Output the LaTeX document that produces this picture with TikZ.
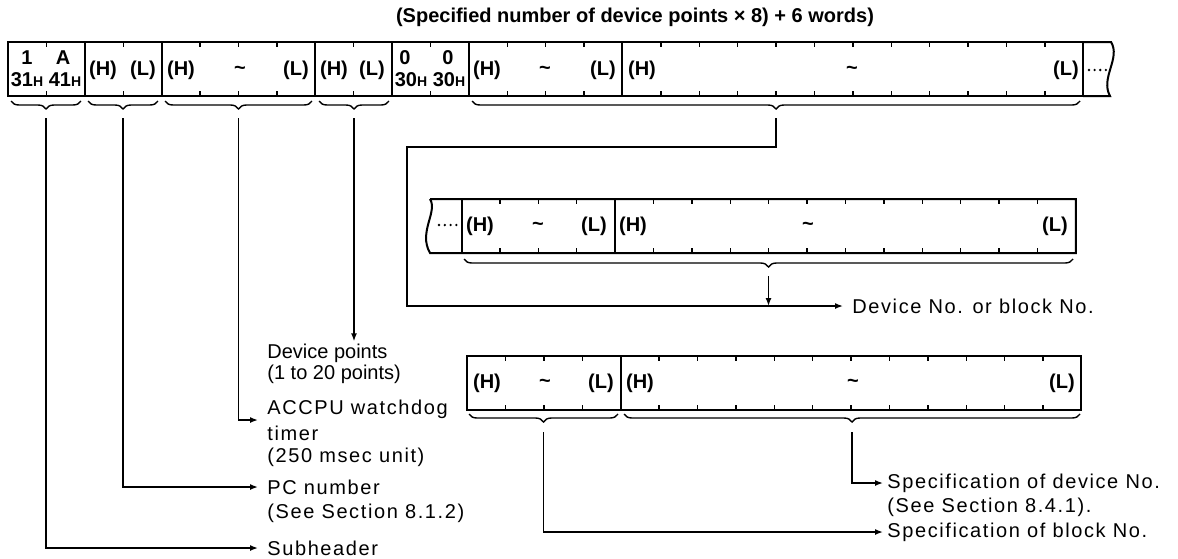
\documentclass[tikz,border=0pt]{standalone}
\usepackage{fontspec}
\setmainfont{Liberation Sans}
\newfontfamily\spc[LetterSpace=8]{Liberation Sans}
\usepackage{tikz}
\usetikzlibrary{positioning,arrows.meta,decorations.pathreplacing}
\newcommand{\subH}{{\fontsize{7}{8}\selectfont H}}
\tikzset{
  boxln/.style={line width=1pt},
  tickln/.style={line width=0.7pt},
  brc/.style={decorate,decoration={brace,mirror,amplitude=4pt},line width=0.7pt},
  conn/.style={line width=0.75pt},
  arr/.style={conn,-{Latex[length=4pt,width=3pt]}},
  cell/.style={inner sep=0pt,font=\bfseries\fontsize{10}{12}\selectfont},
  lbl/.style={anchor=west,inner xsep=4.5pt,inner ysep=1pt,align=left,font=\spc\fontsize{10}{13}\selectfont},
}

\begin{document}
\begin{tikzpicture}[x=0.5pt,y=-0.5pt]
\useasboundingbox (0,0) rectangle (1178,558);
% one unit = one byte = 38.4 px, y runs downward
\node[cell] (title) at (635,17) {(Specified number of device points × 8) + 6 words)};

% --- top row: 28 units from x=8
\draw[boxln] (8,42) rectangle (1083.2,96);
\draw[boxln] (1083.2,42) -- (1111,42) .. controls (1121,58) and (1100,78) .. (1110,96) -- (1083.2,96);
\foreach \i in {2,4,8,10,12,16} \draw[boxln] (8+\i*38.4,42) -- (8+\i*38.4,96);
\foreach \i in {1,...,27} {\draw[tickln] (8+\i*38.4,42) -- ++(0,5) (8+\i*38.4,96) -- ++(0,-5);}
\foreach \d in {0,...,3} \fill (1089+\d*5.6,70) circle (1.3);
\node[cell] (sA1) at (27,58) {1};
\node[cell] (sA2) at (63,58) {A};
\node[cell] (sH1) at (27,80) {31\subH};
\node[cell] (sH2) at (65,80) {41\subH};
\node[cell] (nZ1) at (405,58) {0};
\node[cell] (nZ2) at (448,58) {0};
\node[cell] (nH1) at (411,80) {30\subH};
\node[cell] (nH2) at (449,80) {30\subH};
\foreach \x/\t [count=\k] in {103/(H),143/(L),181/(H),240/\textasciitilde,296/(L),334/(H),372/(L),487/(H),545/\textasciitilde,603/(L),642/(H),852/\textasciitilde,1066/(L)}
  \node[cell] (top\k) at (\x,70) {\t};
% braces of the top row
\draw[brc] (11,101) -- (81,101);
\draw[brc] (88,101) -- (158,101);
\draw[brc] (165,101) -- (312,101);
\draw[brc] (319,101) -- (389,101);
\draw[brc] (472,101) -- (1080,101);
\coordinate (tSub) at (46,118);
\coordinate (tPC) at (123,118);
\coordinate (tWd) at (238.5,118);
\coordinate (tDev) at (354,118);
\coordinate (tData) at (776,118);

% --- middle row (continuation)
\draw[boxln] (430,199) -- (1075.9,199) -- (1075.9,253) -- (430,253) .. controls (418,232) and (438,212) .. (430,199);
\foreach \i in {0,4} \draw[boxln] (461.5+\i*38.4,199) -- (461.5+\i*38.4,253);
\foreach \i in {1,...,15} {\draw[tickln] (461.5+\i*38.4,199) -- ++(0,5) (461.5+\i*38.4,253) -- ++(0,-5);}
\foreach \d in {0,...,3} \fill (439+\d*5.8,225) circle (1.3);
\foreach \x/\t [count=\k] in {480/(H),538/\textasciitilde,594/(L),633/(H),808/\textasciitilde,1055/(L)}
  \node[cell] (mid\k) at (\x,226) {\t};
\draw[brc] (464,259) -- (1073,259);
\coordinate (tMid) at (768.5,276);

% --- bottom row (device No. / block No.)
\draw[boxln] (467,356) rectangle (1081.4,410);
\draw[boxln] (620.6,356) -- (620.6,410);
\foreach \i in {1,...,15} {\draw[tickln] (467+\i*38.4,356) -- ++(0,5) (467+\i*38.4,410) -- ++(0,-5);}
\foreach \x/\t [count=\k] in {487/(H),545/\textasciitilde,601/(L),640/(H),853/\textasciitilde,1062/(L)}
  \node[cell] (bot\k) at (\x,383) {\t};
\draw[brc] (469,414) -- (618,414);
\draw[brc] (624,414) -- (1080,414);
\coordinate (tBlk) at (543.5,432);
\coordinate (tSpec) at (852,432);

% --- labels
\node[lbl] (lNo) at (843,306) {Device No. or block No.};
\node[lbl,font=\fontsize{10}{12}\selectfont] (lDev) at (258,353) {Device points};
\node[lbl,font=\fontsize{10}{12}\selectfont] (lDevR) at (258,374) {(1 to 20 points)};
\node[lbl] (lWd) at (258,420) {ACCPU watchdog\\timer};
\node[lbl] (lWdU) at (258,457) {(250 msec unit)};
\node[lbl] (lPC) at (258,487) {PC number};
\node[lbl] (lPCs) at (258,513) {(See Section 8.1.2)};
\node[lbl] (lSub) at (258,548) {Subheader};
\node[lbl,inner xsep=2pt] (lSpec) at (883,483) {Specification of device No.};
\node[lbl,inner xsep=2pt] (lSpecS) at (883,507) {(See Section 8.4.1).};
\node[lbl,inner xsep=2pt] (lBlk) at (883,532) {Specification of block No.};

% --- connectors
\draw[arr] (tSub) |- (lSub.west);
\draw[arr] (tPC) |- (lPC.west);
\draw[arr] (tWd) |- (lWd.west);
\draw[arr] (tDev) -- (tDev |- lDev.north);
\coordinate (bend) at (407,147);
\draw[arr] (tData) |- (bend) |- (lNo.west);
\draw[arr] (tMid) -- (tMid |- lNo.west);
\draw[arr] (tSpec) |- (lSpec.west);
\draw[arr] (tBlk) |- (lBlk.west);
\end{tikzpicture}
\end{document}
